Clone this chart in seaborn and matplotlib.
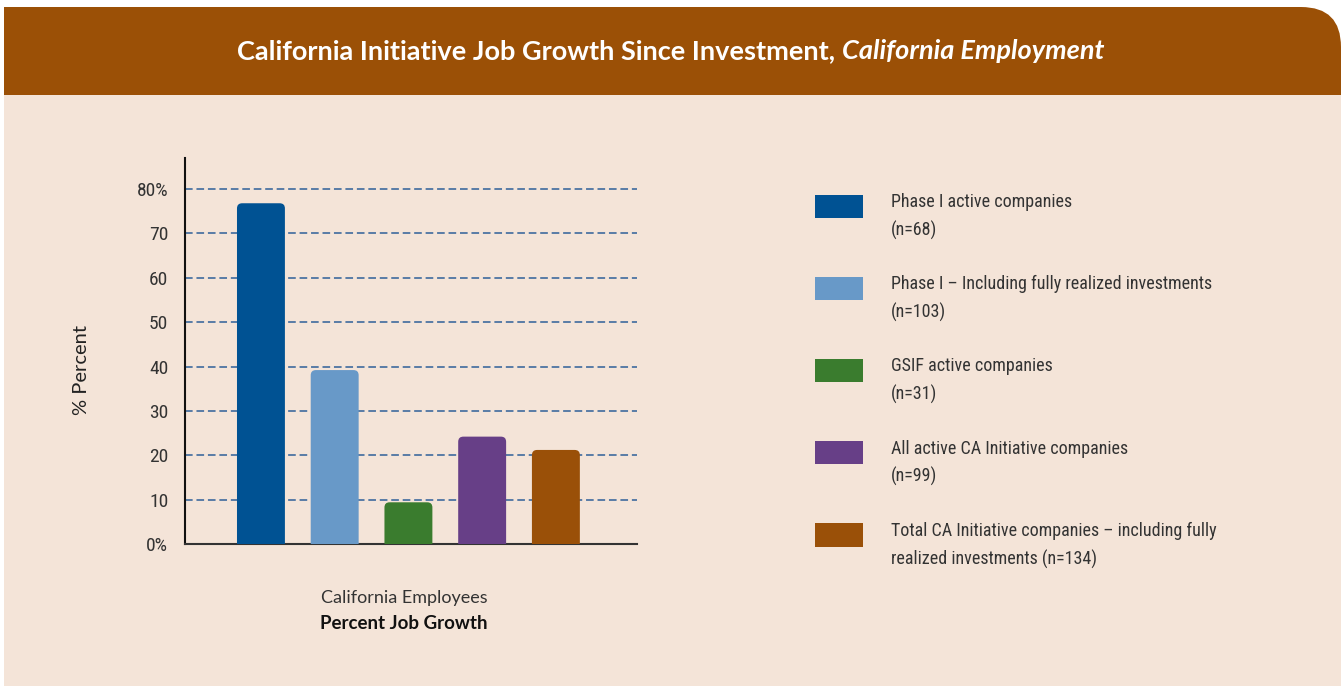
import numpy as np
import pandas as pd
import seaborn as sns
import matplotlib.pyplot as plt
from matplotlib import font_manager
from matplotlib.patches import Rectangle, FancyBboxPatch, Patch
from matplotlib.legend_handler import HandlerPatch

# Data

groups = ['Phase I active companies\n(n=68)',
          'Phase I – Including fully realized investments\n(n=103)',
          'GSIF active companies\n(n=31)',
          'All active CA Initiative companies\n(n=99)',
          'Total CA Initiative companies – including fully\nrealized investments (n=134)']
growth = [76.8, 39.2, 9.4, 24.2, 21.2]
colors = ['#005293', '#6899c8', '#3a7c2e', '#673f87', '#9a5008']
ytick_vals = [0, 10, 20, 30, 40, 50, 60, 70, 80]
ytick_labels = ['0%', '10', '20', '30', '40', '50', '60', '70', '80%']

# pick a condensed face if one is around
names = {f.name for f in font_manager.fontManager.ttflist}
narrow_name = 'DejaVu Sans'
for cand in ['Liberation Sans Narrow', 'Roboto Condensed', 'Open Sans Condensed', 'Noto Sans Condensed']:
    if cand in names:
        narrow_name = cand
        break
narrow = {'family': [narrow_name, 'DejaVu Sans'],
          'stretch': 'condensed' if narrow_name == 'DejaVu Sans' else 'normal'}
plain = ['Lato', 'DejaVu Sans']

df = pd.DataFrame({'group': groups, 'growth': growth})

sns.set_style('white')

fig = plt.figure(figsize=(13.41, 6.86), dpi=100)
fig.patch.set_facecolor('white')

# Background panel and header band

fig.patches.append(Rectangle((0.04, 0), 13.37, 5.91, transform=fig.dpi_scale_trans,
                             facecolor='#f4e4d8', edgecolor='none', zorder=-1))
fig.patches.append(FancyBboxPatch((0.04, 5.2), 13.37, 1.59, transform=fig.dpi_scale_trans,
                                  boxstyle='round,pad=0,rounding_size=0.4',
                                  facecolor='#9b5006', edgecolor='none', zorder=-2))
fig.patches.append(Rectangle((0.04, 5.91), 1.0, 0.88, transform=fig.dpi_scale_trans,
                             facecolor='#9b5006', edgecolor='none', zorder=-2))

fig.text(835 / 1341, 1 - 51 / 686, 'California Initiative Job Growth Since Investment,',
         ha='right', va='center', color='white', fontsize=19.5, fontweight='bold', family=plain)
fig.text(842 / 1341, 1 - 51 / 686, 'California Employment',
         ha='left', va='center', color='white', fontsize=19.5, fontweight='bold',
         fontstyle='italic', family=plain)

# Bar chart

ax = fig.add_axes([185 / 1341, 1 - 544 / 686, 452 / 1341, 386 / 686])
ax.set_facecolor('none')

sns.barplot(data=df, x='group', y='growth', hue='group', palette=colors,
            width=0.65, saturation=1, legend=False, ax=ax, zorder=3, linewidth=0)

ax.set_xlim(-1.03, 5.1)
ax.set_ylim(0, 87)

# round off the bar tops (bottom corners sink below the axis and get clipped)
p0 = ax.transData.transform((0, 0))
p1 = ax.transData.transform((1, 1))
aspect = (p1[0] - p0[0]) / (p1[1] - p0[1])
for bar in list(ax.patches):
    x, w, h = bar.get_x(), bar.get_width(), bar.get_height()
    rounded = FancyBboxPatch((x, -3), w, h + 3, boxstyle='round,pad=0,rounding_size=0.07',
                             mutation_aspect=aspect, facecolor=bar.get_facecolor(),
                             edgecolor='none', zorder=3)
    bar.remove()
    ax.add_patch(rounded)

ax.set_yticks(ytick_vals)
ax.set_yticklabels(ytick_labels, fontsize=14, color='#333333', **narrow)
ax.set_xticks([])
ax.set_xlabel('')
ax.set_ylabel('% Percent', family=plain, fontsize=14.5, color='#222222')
ax.yaxis.set_label_coords(-0.21, 0.45)
ax.tick_params(axis='y', length=0, pad=12)

ax.yaxis.grid(True, linestyle=(0, (5, 2.5)), color='#2e6099', linewidth=1.1, zorder=0)
ax.set_axisbelow(True)
for s in ['top', 'right']:
    ax.spines[s].set_visible(False)
ax.spines['left'].set_color('#111111')
ax.spines['left'].set_linewidth(1.5)
ax.spines['bottom'].set_color('#333333')
ax.spines['bottom'].set_linewidth(1.5)

ax.text(0.485, -0.14, 'California Employees', transform=ax.transAxes, ha='center', va='center',
        family=plain, fontsize=13, color='#333333')
ax.text(0.485, -0.207, 'Percent Job Growth', transform=ax.transAxes, ha='center', va='center',
        family=plain, fontsize=13.5, fontweight='bold', color='#111111')

# Legend: swatch aligned with first label line


def swatch(legend, orig_handle, xdescent, ydescent, width, height, fontsize):
    return Rectangle((-xdescent, -ydescent + 0.62 * fontsize), width, height)


handles = [Patch(facecolor=c, edgecolor='none') for c in colors]
leg = fig.legend(handles, groups, loc='upper left', bbox_to_anchor=(799 / 1341, 1 - 177 / 686),
                 frameon=False, prop=dict(size=13, **narrow),
                 handlelength=2.65, handleheight=1.6, handletextpad=1.55, labelspacing=1.95,
                 handler_map={Patch: HandlerPatch(patch_func=swatch)})
for t in leg.get_texts():
    t.set_color('#333333')
    t.set_linespacing(1.65)

fig.savefig('out.png', dpi=100)
